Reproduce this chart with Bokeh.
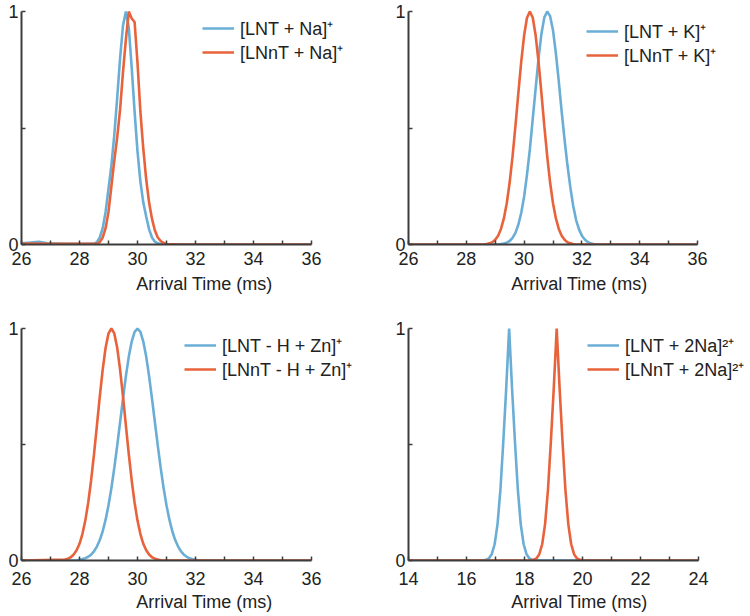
from bokeh.plotting import figure
from bokeh.models import Range1d, FixedTicker, Legend, LegendItem
from bokeh.layouts import column, row
from bokeh.embed import file_html
from bokeh.resources import INLINE

BLUE = "#6aaed6"
RED = "#e8633b"
FONT = "Liberation Sans"

# ---------------- data ----------------
# Panel A: [M + Na]+
na_x = [26.0, 26.3, 26.6, 26.9, 27.5, 28.0, 28.5, 28.6, 28.7, 28.8, 28.9, 29.0, 29.1, 29.2,
        29.3, 29.4, 29.5, 29.6, 29.7, 29.8, 29.9, 30.0, 30.1, 30.2, 30.3, 30.4, 30.5, 30.6,
        30.7, 30.8, 30.9, 31.0, 31.5, 33.0, 36.0]
na_lnt = [0.005, 0.008, 0.012, 0.005, 0.003, 0.003, 0.004, 0.01, 0.03, 0.07, 0.14, 0.24, 0.34, 0.47,
          0.63, 0.80, 0.94, 1.0, 0.93, 0.76, 0.57, 0.40, 0.27, 0.18, 0.12, 0.065, 0.03, 0.012,
          0.005, 0.002, 0.0, 0.0, 0.0, 0.0, 0.0]
na_lnnt = [0.003, 0.004, 0.004, 0.003, 0.003, 0.003, 0.003, 0.003, 0.01, 0.03, 0.07, 0.14, 0.25, 0.36,
           0.46, 0.58, 0.74, 0.88, 1.0, 0.97, 0.955, 0.78, 0.57, 0.41, 0.28, 0.18, 0.11, 0.06,
           0.03, 0.015, 0.006, 0.002, 0.0, 0.0, 0.0]

# Panel B: [M + K]+
k_x = [26.0, 28.6, 28.7, 28.8, 28.9, 29.0, 29.1, 29.2, 29.3, 29.4, 29.5, 29.6, 29.7, 29.8, 29.9,
       30.0, 30.1, 30.2, 30.3, 30.4, 30.5, 30.6, 30.7, 30.8, 30.9, 31.0, 31.1, 31.2, 31.3, 31.4,
       31.5, 31.6, 31.7, 31.8, 31.9, 32.0, 32.1, 32.2, 32.3, 32.4, 32.5, 32.6, 36.0]
k_lnt = [0.0, 0.0, 0.0, 0.0, 0.0, 0.0, 0.0, 0.002, 0.004, 0.008, 0.015, 0.028, 0.05, 0.085, 0.135,
         0.205, 0.30, 0.41, 0.54, 0.67, 0.80, 0.905, 0.975, 1.0, 0.98, 0.92, 0.82, 0.70, 0.57, 0.45,
         0.34, 0.245, 0.165, 0.105, 0.065, 0.038, 0.021, 0.011, 0.005, 0.002, 0.0, 0.0, 0.0]
k_lnnt = [0.0, 0.0, 0.002, 0.005, 0.01, 0.02, 0.038, 0.067, 0.112, 0.177, 0.266, 0.378, 0.508, 0.649, 0.784,
          0.897, 0.973, 1.0, 0.973, 0.897, 0.784, 0.649, 0.508, 0.378, 0.266, 0.177, 0.112, 0.067, 0.038, 0.02,
          0.01, 0.005, 0.002, 0.0, 0.0, 0.0, 0.0, 0.0, 0.0, 0.0, 0.0, 0.0, 0.0]

# Panel C: [M - H + Zn]+
zn_x = [26.0, 27.5, 27.6, 27.7, 27.8, 27.9, 28.0, 28.1, 28.2, 28.3, 28.4, 28.5, 28.6, 28.7, 28.8,
        28.9, 29.0, 29.1, 29.2, 29.3, 29.4, 29.5, 29.6, 29.7, 29.8, 29.9, 30.0, 30.1, 30.2, 30.3,
        30.4, 30.5, 30.6, 30.7, 30.8, 30.9, 31.0, 31.1, 31.2, 31.3, 31.4, 31.5, 31.6, 31.7, 31.8,
        31.9, 32.0, 32.1, 32.2, 36.0]
zn_lnt = [0.0, 0.0, 0.0, 0.0, 0.0, 0.0, 0.003, 0.006, 0.01, 0.016, 0.025, 0.039, 0.06, 0.088, 0.126,
          0.176, 0.238, 0.312, 0.399, 0.495, 0.596, 0.698, 0.795, 0.879, 0.944, 0.986, 1.0, 0.986, 0.944, 0.879,
          0.795, 0.698, 0.596, 0.495, 0.399, 0.312, 0.238, 0.176, 0.126, 0.088, 0.06, 0.039, 0.025, 0.016, 0.0095,
          0.0056, 0.0032, 0.001, 0.0, 0.0]
zn_lnnt = [0.0, 0.004, 0.008, 0.014, 0.026, 0.044, 0.072, 0.114, 0.172, 0.249, 0.345, 0.458, 0.581, 0.707, 0.823,
           0.917, 0.979, 1.0, 0.979, 0.917, 0.823, 0.707, 0.581, 0.458, 0.345, 0.249, 0.172, 0.114, 0.072, 0.044,
           0.026, 0.014, 0.008, 0.004, 0.001, 0.0, 0.0, 0.0, 0.0, 0.0, 0.0, 0.0, 0.0, 0.0, 0.0,
           0.0, 0.0, 0.0, 0.0, 0.0]

# Panel D: [M + 2Na]2+
na2_lnt_x = [14.0, 16.57, 16.67, 16.77, 16.87, 16.97, 17.07, 17.17, 17.27, 17.37, 17.47, 17.57, 17.67,
             17.77, 17.87, 17.97, 18.07, 18.17, 18.27, 18.37, 24.0]
na2_lnt = [0.0, 0.0, 0.003, 0.009, 0.027, 0.07, 0.157, 0.306, 0.514, 0.744, 1.0, 0.744, 0.514,
           0.306, 0.157, 0.07, 0.027, 0.009, 0.003, 0.0, 0.0]
na2_lnnt_x = [14.0, 18.21, 18.31, 18.41, 18.51, 18.61, 18.71, 18.81, 18.91, 19.01, 19.11, 19.21, 19.31,
              19.41, 19.51, 19.61, 19.71, 19.81, 19.91, 20.01, 24.0]
na2_lnnt = [0.0, 0.0, 0.003, 0.009, 0.027, 0.07, 0.157, 0.306, 0.514, 0.744, 1.0, 0.744, 0.514,
            0.306, 0.157, 0.07, 0.027, 0.009, 0.003, 0.0, 0.0]

x_ticks_a = [26, 28, 30, 32, 34, 36]
x_minor_a = [27, 29, 31, 33, 35]
x_ticks_d = [14, 16, 18, 20, 22, 24]
x_minor_d = [15, 17, 19, 21, 23]
y_ticks = [0, 1]
y_minor = [0.5]

labels = [("[LNT + Na]\u207a", "[LNnT + Na]\u207a"),
          ("[LNT + K]\u207a", "[LNnT + K]\u207a"),
          ("[LNT - H + Zn]\u207a", "[LNnT - H + Zn]\u207a"),
          ("[LNT + 2Na]\u00b2\u207a", "[LNnT + 2Na]\u00b2\u207a")]
x_label = "Arrival Time (ms)"


def make_panel(w, h, mb_left, mb_top, mb_bottom, axis_px, xr, ticks, minor,
               bx, by, rx, ry, labs, leg_loc, lab_standoff, title_standoff):
    frame_w = w - mb_left
    # axis covers xr over axis_px pixels; frame extends further right for the legend
    x_end = xr[0] + (xr[1] - xr[0]) * frame_w / axis_px
    p = figure(width=w, height=h, output_backend="svg", toolbar_location=None,
               x_range=Range1d(xr[0], x_end), y_range=Range1d(0, 1.013),
               min_border_left=mb_left, min_border_right=0,
               min_border_top=mb_top, min_border_bottom=mb_bottom)
    p.outline_line_color = None
    p.xgrid.visible = False
    p.ygrid.visible = False
    rb = p.line(bx, by, line_color=BLUE, line_width=2.6)
    rr = p.line(rx, ry, line_color=RED, line_width=2.6)

    xa = p.xaxis[0]
    xa.ticker = FixedTicker(ticks=ticks, minor_ticks=minor)
    xa.bounds = xr
    xa.axis_label = x_label
    ya = p.yaxis[0]
    ya.ticker = FixedTicker(ticks=y_ticks, minor_ticks=y_minor)
    ya.bounds = (0, 1)
    for ax in (xa, ya):
        ax.axis_line_color = "#3c3c3c"
        ax.axis_line_width = 2
        ax.major_tick_line_color = "#3c3c3c"
        ax.minor_tick_line_color = "#3c3c3c"
        ax.major_tick_line_width = 1.5
        ax.minor_tick_line_width = 1.5
        ax.major_tick_in = 4
        ax.major_tick_out = 0
        ax.minor_tick_in = 4
        ax.minor_tick_out = 0
        ax.major_label_text_font = FONT
        ax.major_label_text_font_size = "18px"
        ax.major_label_text_color = "#222222"
        ax.axis_label_text_font = FONT
        ax.axis_label_text_font_size = "18px"
        ax.axis_label_text_font_style = "normal"
        ax.axis_label_text_color = "#222222"
    xa.major_label_standoff = lab_standoff
    xa.axis_label_standoff = title_standoff
    ya.major_label_standoff = 3

    leg = Legend(items=[LegendItem(label=labs[0], renderers=[rb]),
                        LegendItem(label=labs[1], renderers=[rr])],
                 location=leg_loc)
    leg.border_line_color = None
    leg.background_fill_alpha = 0
    leg.padding = 0
    leg.margin = 0
    leg.spacing = 0
    leg.glyph_width = 32
    leg.glyph_height = 20
    leg.label_height = 20
    leg.label_standoff = 6
    leg.label_text_font = FONT
    leg.label_text_font_size = "18px"
    leg.label_text_color = "#222222"
    p.add_layout(leg)
    return p


p1 = make_panel(387, 317, 21, 8, 73, 290, (26, 36), x_ticks_a, x_minor_a,
                na_x, na_lnt, na_x, na_lnnt, labels[0], (181, 180), 7, 6)
p2 = make_panel(363, 317, 21, 8, 73, 289, (26, 36), x_ticks_a, x_minor_a,
                k_x, k_lnt, k_x, k_lnnt, labels[1], (178, 177), 7, 6)
p3 = make_panel(387, 299, 21, 8, 56, 290, (26, 36), x_ticks_a, x_minor_a,
                zn_x, zn_lnt, zn_x, zn_lnnt, labels[2], (163, 179), 11, 4)
p4 = make_panel(363, 299, 21, 8, 56, 290, (14, 24), x_ticks_d, x_minor_d,
                na2_lnt_x, na2_lnt, na2_lnnt_x, na2_lnnt, labels[3], (179, 179), 11, 4)

layout = column(row(p1, p2), row(p3, p4))
open("out.html", "w").write(file_html(layout, INLINE))
